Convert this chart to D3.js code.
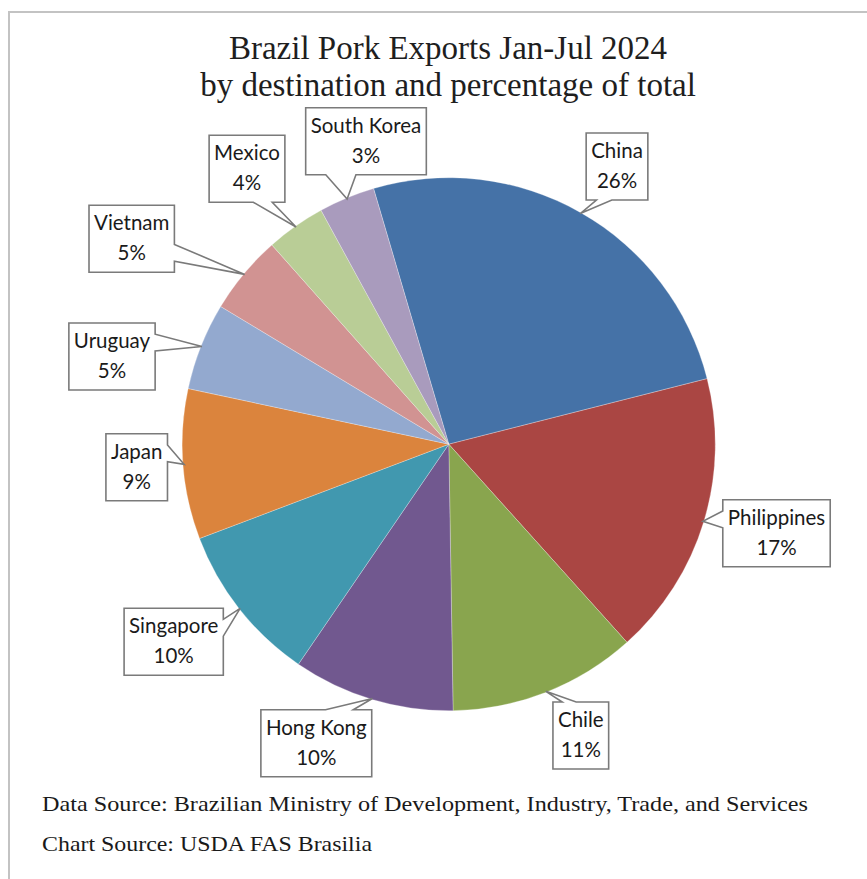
<!DOCTYPE html>
<html>
<head>
<meta charset="utf-8">
<script src="https://cdn.jsdelivr.net/npm/d3@7"></script>
<style>
  html, body { margin: 0; padding: 0; background: #fff; }
  svg { display: block; }
</style>
</head>
<body>
<script>
// Brazil pork exports, Jan-Jul 2024: share of total by destination (%)
const destinations = ["China", "Philippines", "Chile", "Hong Kong", "Singapore",
                      "Japan", "Uruguay", "Vietnam", "Mexico", "South Korea"];
const shares = [25.6, 17.3, 11.4, 9.8, 9.7, 9.1, 5.3, 4.8, 3.6, 3.4];
const sliceColors = ["#4572A7", "#AA4643", "#89A54E", "#71588F", "#4198AF",
                     "#DB843D", "#93A9CF", "#D19392", "#B9CD96", "#A99BBD"];
const titleLines = ["Brazil Pork Exports Jan-Jul 2024",
                    "by destination and percentage of total"];
const footerLines = ["Data Source: Brazilian Ministry of Development, Industry, Trade, and Services",
                     "Chart Source: USDA FAS Brasilia"];

// Where each callout box sits (box centre, page coordinates)
const calloutCenters = [[617, 166.5], [776.5, 533.3], [580.8, 735.5], [316.3, 743.3],
                        [173.7, 641.7], [136.7, 467.3], [112, 356.5], [131.7, 238.8],
                        [247, 168.8], [366, 141.2]];

const W = 867, H = 879;
const cx = 448.8, cy = 444.2, R = 266.5;
const firstSliceAngle = -16.4 * Math.PI / 180;

const svg = d3.select("body").append("svg")
  .attr("width", W).attr("height", H)
  .attr("viewBox", `0 0 ${W} ${H}`);

svg.append("rect").attr("width", W).attr("height", H).attr("fill", "#fff");

// chart-area frame (runs off the right and bottom edges)
svg.append("rect")
  .attr("x", 9).attr("y", 12)
  .attr("width", W + 20).attr("height", H + 20)
  .attr("fill", "none").attr("stroke", "#c3c3c3").attr("stroke-width", 2);

// title
svg.append("g").selectAll("text").data(titleLines).join("text")
  .attr("x", 448).attr("y", (d, i) => 59 + i * 37)
  .attr("text-anchor", "middle")
  .attr("font-family", "'Liberation Serif', 'Times New Roman', serif")
  .attr("font-size", 33)
  .attr("fill", "#1e1e1e")
  .text(d => d);

// pie
const pie = d3.pie().sort(null).value(d => d)
  .startAngle(firstSliceAngle).endAngle(firstSliceAngle + 2 * Math.PI);
const arcs = pie(shares);
const arc = d3.arc().innerRadius(0).outerRadius(R);

const pieG = svg.append("g").attr("transform", `translate(${cx},${cy})`);
pieG.selectAll("path").data(arcs).join("path")
  .attr("d", arc)
  .attr("fill", (d, i) => sliceColors[i])
  .attr("stroke", "rgba(255,255,255,0.45)")
  .attr("stroke-width", 0.6);

// rectangular callout with a wedge pointing at (tx, ty)
function calloutPath(x, y, w, h, tx, ty) {
  const hc = x + w / 2, vc = y + h / 2;
  const dx = tx - hc, dy = ty - vc;
  const dq = dx * h / w;
  const dz = Math.abs(dy) - Math.abs(dq);
  const xg1 = dx > 0 ? 7 : 2, xg2 = dx > 0 ? 10 : 5;
  const yg1 = dy > 0 ? 7 : 2, yg2 = dy > 0 ? 10 : 5;
  const x1 = x + w * xg1 / 12, x2 = x + w * xg2 / 12;
  const y1 = y + h * yg1 / 12, y2 = y + h * yg2 / 12;
  let p = `M${x},${y}`;
  if (dz > 0 && dy < 0) p += `L${x1},${y}L${tx},${ty}L${x2},${y}`;
  p += `L${x + w},${y}`;
  if (dz <= 0 && dx > 0) p += `L${x + w},${y1}L${tx},${ty}L${x + w},${y2}`;
  p += `L${x + w},${y + h}`;
  if (dz > 0 && dy > 0) p += `L${x2},${y + h}L${tx},${ty}L${x1},${y + h}`;
  p += `L${x},${y + h}`;
  if (dz <= 0 && dx < 0) p += `L${x},${y2}L${tx},${ty}L${x},${y1}`;
  return p + "Z";
}

const labelFont = "Lato, 'Open Sans', sans-serif";
const labelSize = 20.5;
const boxH = 67, pad = 5;

const labels = svg.append("g");
arcs.forEach((a, i) => {
  const g = labels.append("g");
  const [bx, by] = calloutCenters[i];
  const mid = (a.startAngle + a.endAngle) / 2;
  const tx = cx + Math.sin(mid) * (R - 1);
  const ty = cy - Math.cos(mid) * (R - 1);
  const path = g.append("path");
  const lines = [destinations[i], Math.round(a.value) + "%"];
  const top = by - boxH / 2;
  const texts = g.selectAll("text").data(lines).join("text")
    .attr("x", bx).attr("y", (d, k) => top + 25 + k * 30)
    .attr("text-anchor", "middle")
    .attr("font-family", labelFont)
    .attr("font-size", labelSize)
    .attr("fill", "#1a1a1a")
    .text(d => d);
  let tw = 0;
  texts.each(function () { tw = Math.max(tw, this.getComputedTextLength()); });
  const bw = tw + 2 * pad;
  path.attr("d", calloutPath(bx - bw / 2, top, bw, boxH, tx, ty))
    .attr("fill", "#fff")
    .attr("stroke", "#7a7a7a")
    .attr("stroke-width", 1.6)
    .attr("stroke-linejoin", "miter");
});

// sources
svg.append("g").selectAll("text").data(footerLines).join("text")
  .attr("x", 42).attr("y", (d, i) => 811 + i * 40)
  .attr("font-family", "'Liberation Serif', 'Times New Roman', serif")
  .attr("font-size", 21)
  .attr("fill", "#1a1a1a")
  .attr("textLength", (d, i) => i === 0 ? 766 : 330)
  .attr("lengthAdjust", "spacingAndGlyphs")
  .text(d => d);
</script>
</body>
</html>
